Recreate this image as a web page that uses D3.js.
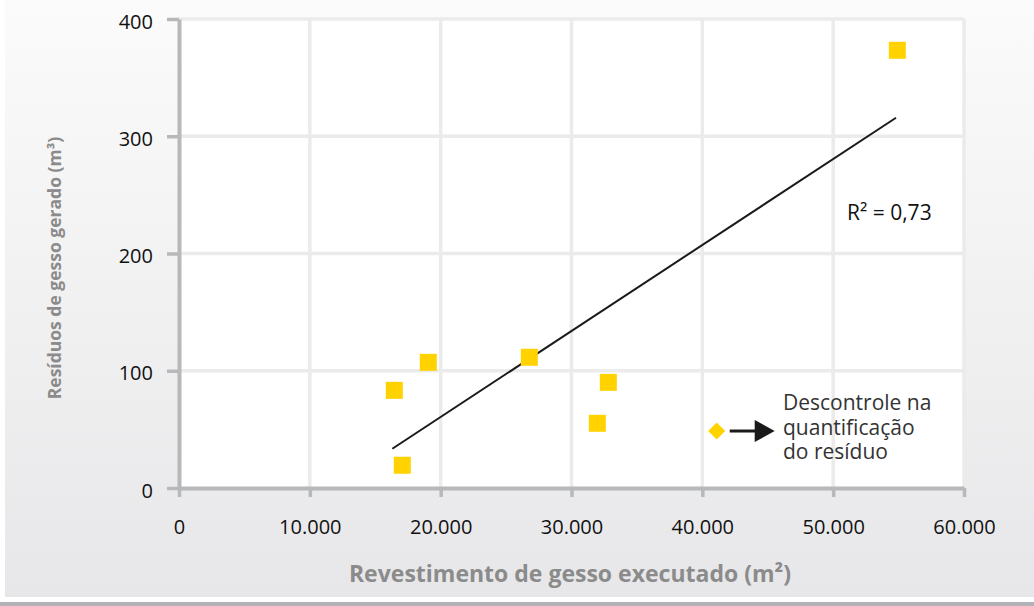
<!DOCTYPE html>
<html>
<head>
<meta charset="utf-8">
<script src="https://cdn.jsdelivr.net/npm/d3@7"></script>
<style>
  body { margin: 0; background: #ffffff; }
  svg { display: block; font-family: "Open Sans", "DejaVu Sans", sans-serif; }
</style>
</head>
<body>
<script>
// Data
const revestimento = [16456, 17068, 19055, 26775, 31973, 32814, 54903]; // m²
const residuos = [83.3, 19.4, 107.2, 111.5, 55.2, 90.1, 373.3];          // m³
const outlierX = [41099];
const outlierY = [48.6];
const trendX = [16304, 54805];
const trendY = [33.5, 315.8];
const xTicks = [0, 10000, 20000, 30000, 40000, 50000, 60000];
const yTicks = [0, 100, 200, 300, 400];
const r2Label = "R² = 0,73";
const noteLines = ["Descontrole na", "quantificação", "do resíduo"];
const xTitle = "Revestimento de gesso executado (m²)";
const yTitle = "Resíduos de gesso gerado (m³)";

const W = 1034, H = 606;
const svg = d3.select("body").append("svg")
    .attr("width", W)
    .attr("height", H);

// background gradient panel
const defs = svg.append("defs");
const grad = defs.append("linearGradient")
    .attr("id", "bg")
    .attr("x1", 0).attr("y1", 0).attr("x2", 0).attr("y2", 1);
grad.append("stop").attr("offset", "0%").attr("stop-color", "#fbfbfb");
grad.append("stop").attr("offset", "100%").attr("stop-color", "#e7e7e9");

svg.append("rect")
    .attr("x", 5).attr("y", 0)
    .attr("width", W - 5).attr("height", 597)
    .attr("fill", "url(#bg)");

svg.append("rect")
    .attr("x", 0).attr("y", 602)
    .attr("width", W).attr("height", 4)
    .attr("fill", "#b3b3b7");

// scales
const x = d3.scaleLinear().domain([0, 60000]).range([179, 964]);
const y = d3.scaleLinear().domain([0, 400]).range([488, 19]);

const locale = d3.formatLocale({ decimal: ",", thousands: ".", grouping: [3], currency: ["R$", ""] });
const fmt = locale.format(",d");

// plot area
svg.append("rect")
    .attr("x", x(0)).attr("y", y(400))
    .attr("width", x(60000) - x(0)).attr("height", y(0) - y(400))
    .attr("fill", "#ffffff");

// gridlines
svg.append("g").selectAll("line")
    .data(xTicks.filter(d => d > 0))
    .enter().append("line")
    .attr("x1", d => x(d)).attr("x2", d => x(d))
    .attr("y1", y(0)).attr("y2", y(400))
    .attr("stroke", "#ebebeb")
    .attr("stroke-width", 3.5);

svg.append("g").selectAll("line")
    .data(yTicks.filter(d => d > 0))
    .enter().append("line")
    .attr("x1", x(0)).attr("x2", x(60000))
    .attr("y1", d => y(d)).attr("y2", d => y(d))
    .attr("stroke", "#ebebeb")
    .attr("stroke-width", 3.5);

// axes
const xAxis = d3.axisBottom(x).tickValues(xTicks).tickFormat(d => d === 0 ? "0" : fmt(d))
    .tickSize(9).tickSizeOuter(0).tickPadding(23);
const yAxis = d3.axisLeft(y).tickValues(yTicks).tickFormat(d3.format("d"))
    .tickSize(12).tickSizeOuter(0).tickPadding(14);

const gx = svg.append("g")
    .attr("transform", "translate(0," + y(0) + ")")
    .call(xAxis);
const gy = svg.append("g")
    .attr("transform", "translate(" + x(0) + ",0)")
    .call(yAxis);

[gx, gy].forEach(g => {
    g.select(".domain").attr("stroke", "#b6b8ba").attr("stroke-width", 4);
    g.selectAll(".tick line").attr("stroke", "#b6b8ba").attr("stroke-width", 3.5);
    g.selectAll(".tick text")
        .attr("fill", "#111111")
        .style("font-size", "20px")
        .style("font-family", "'Open Sans', sans-serif");
});
gy.selectAll(".tick text").attr("dy", "0.45em");

// axis titles
svg.append("text")
    .attr("x", 570).attr("y", 582)
    .attr("text-anchor", "middle")
    .attr("fill", "#8b8b8b")
    .style("font-size", "23px")
    .style("font-weight", "bold")
    .text(xTitle);

svg.append("text")
    .attr("transform", "translate(61,268) rotate(-90)")
    .attr("text-anchor", "middle")
    .attr("fill", "#8b8b8b")
    .style("font-size", "17.5px")
    .style("font-weight", "bold")
    .text(yTitle);

// trend line
const trend = d3.line()
    .x(d => x(d[0]))
    .y(d => y(d[1]));
svg.append("path")
    .datum(d3.zip(trendX, trendY))
    .attr("d", trend)
    .attr("fill", "none")
    .attr("stroke", "#1a1a1a")
    .attr("stroke-width", 2);

// data points
const sq = 17;
svg.append("g").selectAll("rect")
    .data(d3.zip(revestimento, residuos))
    .enter().append("rect")
    .attr("x", d => x(d[0]) - sq / 2)
    .attr("y", d => y(d[1]) - sq / 2)
    .attr("width", sq).attr("height", sq)
    .attr("fill", "#ffd200");

// outlier diamond
svg.append("g").selectAll("path")
    .data(d3.zip(outlierX, outlierY))
    .enter().append("path")
    .attr("transform", d => "translate(" + x(d[0]) + "," + y(d[1]) + ")")
    .attr("d", "M0,-8.5L8.5,0L0,8.5L-8.5,0Z")
    .attr("fill", "#ffd200");

// arrow to note
const ax = x(outlierX[0]), ay = y(outlierY[0]);
svg.append("line")
    .attr("x1", ax + 13).attr("x2", ax + 40)
    .attr("y1", ay).attr("y2", ay)
    .attr("stroke", "#1a1a1a")
    .attr("stroke-width", 3);
svg.append("path")
    .attr("d", `M${ax + 38},${ay - 11}L${ax + 58},${ay}L${ax + 38},${ay + 11}Z`)
    .attr("fill", "#1a1a1a");

// note text
svg.append("g").selectAll("text")
    .data(noteLines)
    .enter().append("text")
    .attr("x", 783)
    .attr("y", (d, i) => 410 + i * 24.5)
    .attr("fill", "#333333")
    .style("font-size", "21px")
    .text(d => d);

// R² label
svg.append("text")
    .attr("x", 847).attr("y", 220)
    .attr("fill", "#111111")
    .style("font-size", "21px")
    .text(r2Label);
</script>
</body>
</html>
